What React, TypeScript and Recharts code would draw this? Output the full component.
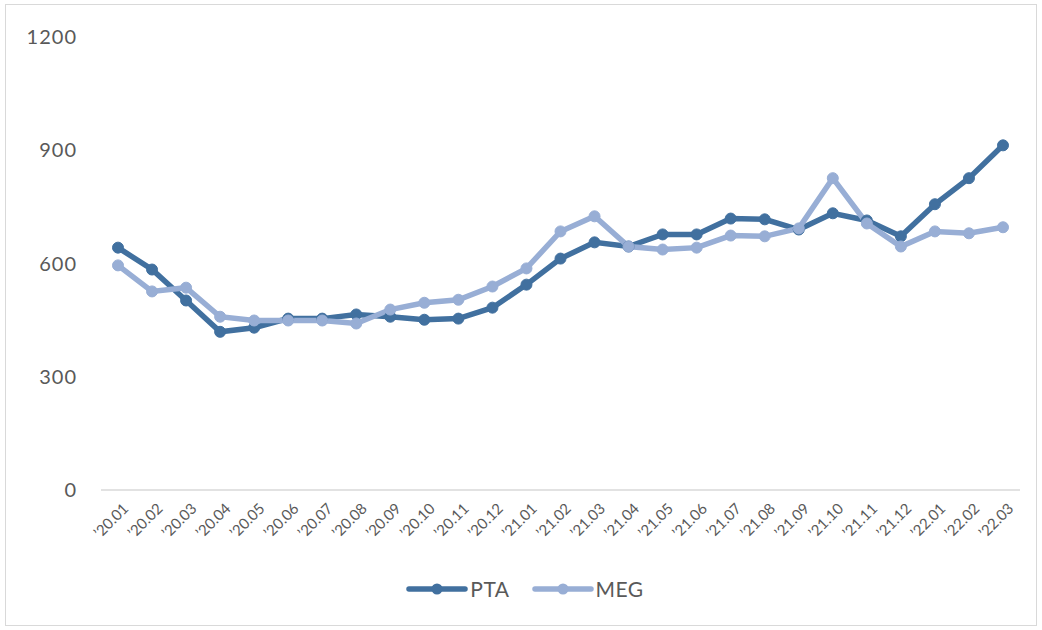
import React from 'react';
import { LineChart, Line, XAxis, YAxis, Legend } from 'recharts';

const MONTHS = [
  '’20.01', '’20.02', '’20.03', '’20.04', '’20.05', '’20.06', '’20.07', '’20.08', '’20.09',
  '’20.10', '’20.11', '’20.12', '’21.01', '’21.02', '’21.03', '’21.04', '’21.05', '’21.06',
  '’21.07', '’21.08', '’21.09', '’21.10', '’21.11', '’21.12', '’22.01', '’22.02', '’22.03'
];

const PTA = [
  642, 584, 502, 419, 430, 454, 454, 465, 459, 451, 454, 483, 544, 613,
  656, 645, 677, 677, 719, 717, 690, 733, 714, 672, 757, 826, 913
];

const MEG = [
  595, 526, 536, 459, 449, 449, 449, 441, 478, 496, 504, 539, 587, 685,
  725, 645, 637, 642, 674, 672, 693, 826, 706, 645, 685, 680, 696
];

const Y_TICKS = [0, 300, 600, 900, 1200];
const SERIES = ['PTA', 'MEG'];

const COLORS = { PTA: '#41709F', MEG: '#98AED5' };
const FONT = 'Lato, "Open Sans", sans-serif';

const chartData = MONTHS.map((m, i) => ({ month: m, PTA: PTA[i], MEG: MEG[i] }));

const LegendContent = (props: any) => {
  const payload = [...(props.payload || [])].sort(
    (a: any, b: any) => SERIES.indexOf(a.value) - SERIES.indexOf(b.value)
  );
  return (
    <div style={{ display: 'flex', justifyContent: 'center', gap: '22px', fontFamily: FONT, paddingLeft: 30 }}>
      {payload.map((p: any) => (
        <div key={p.value} style={{ display: 'flex', alignItems: 'center' }}>
          <svg width={62} height={14}>
            <line x1={3} y1={7} x2={59} y2={7} stroke={p.color} strokeWidth={5.5} strokeLinecap="round" />
            <circle cx={31} cy={7} r={5.5} fill={p.color} />
          </svg>
          <span style={{ fontSize: 21, color: '#595959', marginLeft: 2, letterSpacing: 0.5 }}>{p.value}</span>
        </div>
      ))}
    </div>
  );
};

export default function App() {
  return (
    <div style={{ position: 'absolute', left: 0, top: 0, width: 1042, height: 630, background: '#fff' }}>
      <div style={{ position: 'absolute', left: 5, top: 4, width: 1030, height: 620, border: '1px solid #d9d9d9' }} />
      <div style={{ position: 'absolute', left: 0, top: 0 }}>
        <LineChart width={1042} height={630} data={chartData} margin={{ top: 37, right: 22, left: 0, bottom: 29 }}>
          <XAxis
            dataKey="month"
            interval={0}
            padding={{ left: 17, right: 17 }}
            axisLine={{ stroke: '#d9d9d9', strokeWidth: 1.5 }}
            tickLine={false}
            angle={-45}
            textAnchor="end"
            height={86}
            tick={{ fill: '#595959', fontSize: 15, fontFamily: FONT, dx: 4, dy: 4 }}
          />
          <YAxis
            domain={[0, 1200]}
            ticks={Y_TICKS}
            width={101}
            axisLine={false}
            tickLine={false}
            tickMargin={18}
            tick={{ fill: '#595959', fontSize: 20, fontFamily: FONT, letterSpacing: 1 }}
          />
          <Legend verticalAlign="bottom" content={<LegendContent />} />
          <Line
            dataKey="PTA"
            stroke={COLORS.PTA}
            strokeWidth={5.5}
            dot={{ r: 5.5, fill: COLORS.PTA, stroke: COLORS.PTA, strokeWidth: 1 }}
            isAnimationActive={false}
          />
          <Line
            dataKey="MEG"
            stroke={COLORS.MEG}
            strokeWidth={5.5}
            dot={{ r: 5.5, fill: COLORS.MEG, stroke: COLORS.MEG, strokeWidth: 1 }}
            isAnimationActive={false}
          />
        </LineChart>
      </div>
    </div>
  );
}
